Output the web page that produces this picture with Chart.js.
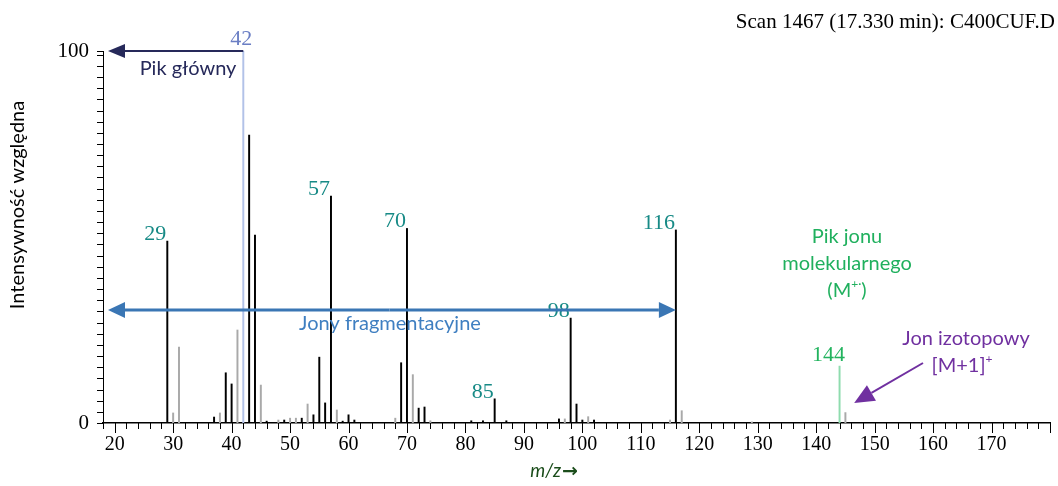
<!DOCTYPE html>
<html>
<head>
<meta charset="utf-8">
<script src="https://cdn.jsdelivr.net/npm/chart.js@4"></script>
<style>
  body { margin: 0; background: #fff; }
</style>
</head>
<body>
<canvas id="js--spectrum" width="1058" height="486"></canvas>
<script>
// m/z and relative intensity
const blackMz = [29, 37, 39, 40, 43, 44, 46, 49, 52, 54, 55, 56, 57, 59, 60, 61, 69, 70, 72, 73, 81, 83, 85, 87, 96, 98, 99, 100, 102, 116];
const blackInt = [48.9, 1.6, 13.5, 10.5, 77.4, 50.5, 0.5, 0.8, 1.3, 2.2, 17.7, 5.4, 61.0, 0.5, 2.2, 0.8, 16.2, 52.3, 4.0, 4.3, 0.6, 0.6, 6.5, 0.6, 1.1, 28.2, 5.1, 0.8, 0.8, 51.9];
const grayMz = [30, 31, 38, 41, 45, 48, 50, 51, 53, 58, 68, 71, 74, 97, 101, 115, 117, 129, 145];
const grayInt = [2.7, 20.4, 2.7, 25.0, 10.2, 0.8, 1.3, 1.3, 5.1, 3.5, 1.3, 13.0, 0.6, 1.1, 1.7, 0.8, 3.3, 0.3, 2.8];
const baseMz = [42];
const baseInt = [100];
const molMz = [144];
const molInt = [15.3];

const labelledPeaks = [29, 57, 70, 85, 98, 116];
const xTickLabels = [20, 30, 40, 50, 60, 70, 80, 90, 100, 110, 120, 130, 140, 150, 160, 170];
const yTickLabels = [0, 100];

const serif = '"Liberation Serif", "Times New Roman", serif';
const sans = 'Lato, "Open Sans", sans-serif';

function pts(xs, ys) {
    return xs.map(function (m, i) { return { x: m, y: ys[i] }; });
}

function arrow(ctx, x1, y1, x2, y2, color, lw, len, half) {
    const a = Math.atan2(y2 - y1, x2 - x1);
    const bx = x2 - Math.cos(a) * len;
    const by = y2 - Math.sin(a) * len;
    ctx.strokeStyle = color;
    ctx.fillStyle = color;
    ctx.lineWidth = lw;
    ctx.beginPath();
    ctx.moveTo(x1, y1);
    ctx.lineTo(bx, by);
    ctx.stroke();
    ctx.beginPath();
    ctx.moveTo(x2, y2);
    ctx.lineTo(bx + Math.sin(a) * half, by - Math.cos(a) * half);
    ctx.lineTo(bx - Math.sin(a) * half, by + Math.cos(a) * half);
    ctx.closePath();
    ctx.fill();
}

// text with a raised little suffix, centred on cx
function supText(ctx, base, sup, tail, cx, y, size) {
    ctx.font = size + 'px ' + sans;
    const w1 = ctx.measureText(base).width;
    const w3 = ctx.measureText(tail).width;
    ctx.font = (size * 0.6) + 'px ' + sans;
    const w2 = ctx.measureText(sup).width;
    let x = cx - (w1 + w2 + w3) / 2;
    ctx.textAlign = 'left';
    ctx.font = size + 'px ' + sans;
    ctx.fillText(base, x, y);
    ctx.font = (size * 0.6) + 'px ' + sans;
    ctx.fillText(sup, x + w1, y - size * 0.45);
    ctx.font = size + 'px ' + sans;
    ctx.fillText(tail, x + w1 + w2, y);
}

const extras = {
    id: 'extras',
    afterDraw: function (chart) {
        const ctx = chart.ctx;
        const xs = chart.scales.x;
        const ys = chart.scales.y;
        const area = chart.chartArea;
        ctx.save();

        // axis ticks
        ctx.strokeStyle = '#000';
        ctx.lineWidth = 1;
        ctx.beginPath();
        for (let m = 18; m <= 180; m += 2) {
            const px = Math.round(xs.getPixelForValue(m)) + 0.5;
            ctx.moveTo(px, area.bottom);
            ctx.lineTo(px, area.bottom + (m % 10 === 0 ? 10 : 6));
        }
        for (let v = 0; v <= 100; v += 3) {
            const py = Math.round(ys.getPixelForValue(v)) + 0.5;
            ctx.moveTo(area.left - 6, py);
            ctx.lineTo(area.left, py);
        }
        ctx.moveTo(area.left - 6, Math.round(ys.getPixelForValue(100)) + 0.5);
        ctx.lineTo(area.left, Math.round(ys.getPixelForValue(100)) + 0.5);
        ctx.stroke();

        // peak labels
        ctx.font = '22px ' + serif;
        ctx.textBaseline = 'alphabetic';
        ctx.textAlign = 'right';
        ctx.fillStyle = '#178a86';
        labelledPeaks.forEach(function (m) {
            const v = blackInt[blackMz.indexOf(m)];
            ctx.fillText(String(m), xs.getPixelForValue(m) - 1, ys.getPixelForValue(v) - 1);
        });
        ctx.textAlign = 'center';
        ctx.fillStyle = '#6a7ec4';
        ctx.fillText(String(baseMz[0]), xs.getPixelForValue(baseMz[0]) - 2, ys.getPixelForValue(baseInt[0]) - 6);
        ctx.fillStyle = '#22b35e';
        ctx.fillText(String(molMz[0]), xs.getPixelForValue(molMz[0]) - 11, ys.getPixelForValue(molInt[0]) - 5);

        // title
        ctx.fillStyle = '#000';
        ctx.font = '21px ' + serif;
        ctx.textAlign = 'right';
        ctx.fillText('Scan 1467 (17.330 min): C400CUF.D', 1055, 28);

        // base peak arrow
        const y100 = ys.getPixelForValue(100);
        arrow(ctx, xs.getPixelForValue(42), y100, area.left + 5, y100, '#26295a', 2, 17, 7);
        ctx.fillStyle = '#26295a';
        ctx.font = '20px ' + sans;
        ctx.textAlign = 'center';
        ctx.fillText('Pik główny', 188, 75);

        // fragment ions double arrow
        const yf = 310;
        const x116 = xs.getPixelForValue(116);
        arrow(ctx, (area.left + x116) / 2, yf, area.left + 5, yf, '#3a76b4', 3, 17, 8);
        arrow(ctx, (area.left + x116) / 2, yf, x116, yf, '#3a76b4', 3, 17, 8);
        ctx.fillStyle = '#3f7fc1';
        ctx.fillText('Jony fragmentacyjne', 390, 330);

        // molecular ion
        ctx.fillStyle = '#20b05e';
        ctx.fillText('Pik jonu', 847, 243);
        ctx.fillText('molekularnego', 847, 270);
        supText(ctx, '(M', '+·', ')', 847, 297, 20);

        // isotope ion
        ctx.fillStyle = '#7030a0';
        ctx.textAlign = 'center';
        ctx.font = '20px ' + sans;
        ctx.fillText('Jon izotopowy', 966, 345);
        supText(ctx, '[M+1]', '+', '', 962, 372, 20);
        arrow(ctx, 923, 363, xs.getPixelForValue(146.5), 403, '#7030a0', 2, 20, 9);

        // axis titles
        ctx.fillStyle = '#000';
        ctx.textAlign = 'center';
        ctx.font = '20px ' + sans;
        ctx.save();
        ctx.translate(24, 205);
        ctx.rotate(-Math.PI / 2);
        ctx.fillText('Intensywność względna', 0, 0);
        ctx.restore();

        ctx.fillStyle = '#1b4d1b';
        ctx.font = 'italic 19px ' + sans;
        ctx.textAlign = 'right';
        ctx.fillText('m/z', 561, 477);
        ctx.font = 'bold 19px "DejaVu Sans", sans-serif';
        ctx.textAlign = 'left';
        ctx.fillText('→', 562, 477);

        ctx.restore();
    }
};

new Chart(document.getElementById('js--spectrum'), {
    type: 'bar',
    data: {
        datasets: [
            { label: 'gray', data: pts(grayMz, grayInt), backgroundColor: '#a9a9a9' },
            { label: 'black', data: pts(blackMz, blackInt), backgroundColor: '#000' },
            { label: 'base', data: pts(baseMz, baseInt), backgroundColor: '#b2c2e8' },
            { label: 'molecular', data: pts(molMz, molInt), backgroundColor: '#8fdcae' }
        ]
    },
    options: {
        responsive: false,
        animation: false,
        devicePixelRatio: 1,
        grouped: false,
        barThickness: 1.3,
        layout: { padding: { top: 51, right: 8, left: 0, bottom: 0 } },
        plugins: { legend: { display: false }, tooltip: { enabled: false } },
        scales: {
            x: {
                type: 'linear',
                min: 18,
                max: 180,
                offset: false,
                grid: { display: false, drawTicks: false },
                border: { display: true, color: '#000', width: 1.5 },
                afterBuildTicks: function (scale) {
                    scale.ticks = xTickLabels.map(function (v) { return { value: v }; });
                },
                afterFit: function (scale) { scale.height = 63; },
                ticks: {
                    color: '#000',
                    padding: 10,
                    maxRotation: 0,
                    autoSkip: false,
                    font: { family: serif, size: 20 }
                }
            },
            y: {
                min: 0,
                max: 100,
                grid: { display: false, drawTicks: false },
                border: { display: true, color: '#000', width: 1 },
                afterBuildTicks: function (scale) {
                    scale.ticks = yTickLabels.map(function (v) { return { value: v }; });
                },
                afterFit: function (scale) { scale.width = 103; },
                ticks: {
                    color: '#000',
                    padding: 14,
                    font: { family: serif, size: 21 }
                }
            }
        }
    },
    plugins: [extras]
});
</script>
</body>
</html>
